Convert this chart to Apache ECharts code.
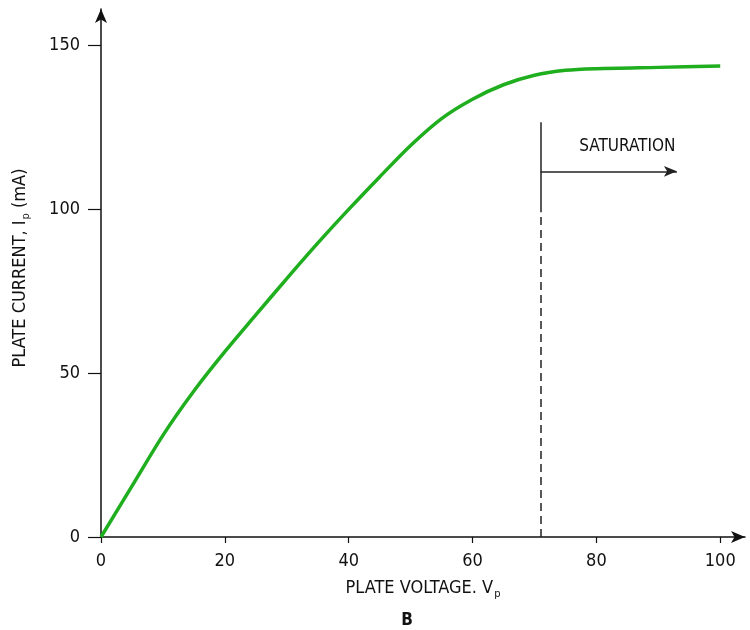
<!DOCTYPE html>
<html>
<head>
<meta charset="utf-8">
<script src="https://cdn.jsdelivr.net/npm/echarts@6/dist/echarts.min.js"></script>
<style>html,body{margin:0;padding:0;background:#fff}#c{width:750px;height:630px}</style>
</head>
<body>
<div id="c"></div>
<script>
// Plate voltage (V) and plate current (mA)
var plateVoltage = [0, 5, 10, 15, 20, 25, 30, 35, 40, 45, 50, 55, 60, 65, 70, 75, 80, 90, 100];
var plateCurrent = [0, 15.5, 31, 44.5, 56.5, 67.7, 78.8, 89.6, 99.9, 109.8, 119.4, 127.6, 133.5, 137.9, 140.8, 142.3, 142.8, 143.2, 143.6];
var xTicks = [0, 20, 40, 60, 80, 100];
var yTicks = [0, 50, 100, 150];
// saturation marker
var satVoltage = 71;
var satDashedTop = 99;
var satSolidTop = 126.5;
var satArrowLevel = 111.5;
var satArrowEnd = 93;
var satLabelPos = [85, 119];
var satLabel = 'SATURATION';

var FONT = "'Liberation Sans Narrow', 'DejaVu Sans Condensed', 'Liberation Sans', sans-serif";
var chart = echarts.init(document.getElementById('c'), null, {renderer: 'canvas'});
var pts = plateVoltage.map(function (v, i) { return [v, plateCurrent[i]]; });

chart.setOption({
  animation: false,
  backgroundColor: '#ffffff',
  grid: {left: 101, right: 5, top: 9, bottom: 93, containLabel: false},
  xAxis: {
    type: 'value', min: 0, max: 104, interval: 20,
    splitLine: {show: false},
    axisLine: {show: true, onZero: false, lineStyle: {color: '#111', width: 1.5},
      symbol: ['none', 'arrow'], symbolSize: [9, 14]},
    axisTick: {show: true, length: 6, customValues: xTicks, lineStyle: {color: '#111', width: 1.2}},
    axisLabel: {customValues: xTicks, margin: 15, color: '#111', fontSize: 18, fontFamily: FONT},
    name: 'PLATE VOLTAGE. V{sub|p}',
    nameLocation: 'middle', nameGap: 40,
    nameTextStyle: {color: '#111', fontSize: 18, fontFamily: FONT,
      rich: {sub: {fontSize: 11, fontFamily: FONT, color: '#111', padding: [12, 0, 0, 1]}}}
  },
  yAxis: {
    type: 'value', min: 0, max: 161, interval: 50,
    splitLine: {show: false},
    axisLine: {show: true, onZero: false, lineStyle: {color: '#111', width: 1.5},
      symbol: ['none', 'arrow'], symbolSize: [9, 14]},
    axisTick: {show: true, length: 13, customValues: yTicks, lineStyle: {color: '#111', width: 1.2}},
    axisLabel: {customValues: yTicks, margin: 21, color: '#111', fontSize: 18, fontFamily: FONT},
    name: 'PLATE CURRENT, I{sub|p} (mA)',
    nameLocation: 'middle', nameGap: 69,
    nameTextStyle: {color: '#111', fontSize: 18, fontFamily: FONT, padding: [0, 0, 0, 10],
      rich: {sub: {fontSize: 11, fontFamily: FONT, color: '#111', padding: [12, 0, 0, 1]}}}
  },
  graphic: [{
    type: 'text', x: 407, y: 621,
    style: {text: 'B', font: 'bold 17px ' + FONT, fill: '#111', textAlign: 'center', textVerticalAlign: 'middle'}
  }],
  series: [{
    type: 'line', data: pts, smooth: 0.3, symbol: 'none', clip: false,
    lineStyle: {color: '#1eae1e', width: 3.5},
    markLine: {
      silent: true, animation: false, symbol: ['none', 'none'],
      label: {show: false},
      data: [
        [{coord: [satVoltage, 0], lineStyle: {type: [8, 5], color: '#222', width: 1.5}},
         {coord: [satVoltage, satDashedTop]}],
        [{coord: [satVoltage, satDashedTop], lineStyle: {type: 'solid', color: '#222', width: 1.5}},
         {coord: [satVoltage, satSolidTop]}],
        [{coord: [satVoltage, satArrowLevel], lineStyle: {type: 'solid', color: '#222', width: 1.5}, symbol: 'none'},
         {coord: [satArrowEnd, satArrowLevel], symbol: 'arrow', symbolSize: [8, 13]}]
      ]
    },
    markPoint: {
      silent: true, animation: false,
      data: [{coord: satLabelPos, symbol: 'circle', symbolSize: 0,
        label: {show: true, position: 'inside', formatter: satLabel, color: '#111', fontSize: 17, fontFamily: FONT}}]
    }
  }]
});
</script>
</body>
</html>
